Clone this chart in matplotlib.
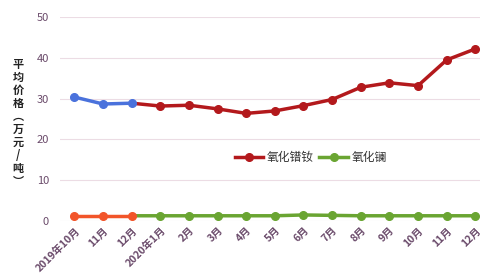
import numpy as np
import matplotlib
matplotlib.use("Agg")
import matplotlib.pyplot as plt
from matplotlib.lines import Line2D

plt.rcParams['font.family'] = ['Noto Sans CJK SC', 'DejaVu Sans']

months = ["2019年10月", "11月", "12月", "2020年1月", "2月", "3月", "4月", "5月",
          "6月", "7月", "8月", "9月", "10月", "11月", "12月"]
# 2019 part (three months) and 2020 part
prnd_2019 = [30.4, 28.7, 28.9]
prnd_2020 = [28.2, 28.4, 27.5, 26.4, 27.0, 28.3, 29.8, 32.8, 33.9, 33.2, 39.5, 42.2]
la_2019 = [1.3, 1.3, 1.3]
la_2020 = [1.3, 1.3, 1.3, 1.3, 1.3, 1.5, 1.4, 1.3, 1.3, 1.3, 1.3, 1.3]

x = np.arange(len(months))
x19 = x[:3]
x20 = x[2:]

fig = plt.figure(figsize=(4.81, 2.76), dpi=100)
ax = fig.add_axes([0.125, 0.199, 0.875, 0.739])

red = "#b3191c"
blue = "#4a72dc"
orange = "#f2552a"
green = "#6aa532"
lw = 2.5
ms = 5.5

# 2020 series start from Dec 2019 so lines join up
ax.plot(x20, [prnd_2019[-1]] + prnd_2020, color=red, lw=lw, zorder=3)
ax.plot(x[3:], prnd_2020, color=red, lw=0, marker="o", ms=ms, zorder=4)
ax.plot(x19, prnd_2019, color=blue, lw=lw, marker="o", ms=ms, zorder=5)

ax.plot(x20, [la_2019[-1]] + la_2020, color=green, lw=lw, zorder=3)
ax.plot(x[3:], la_2020, color=green, lw=0, marker="o", ms=ms, zorder=4)
ax.plot(x19, la_2019, color=orange, lw=lw, marker="o", ms=ms, zorder=5)

handles = [Line2D([], [], color=red, lw=lw, marker="o", ms=ms),
           Line2D([], [], color=green, lw=lw, marker="o", ms=ms)]
ax.legend(handles, ["氧化镨钕", "氧化镧"], loc="center", bbox_to_anchor=(0.595, 0.31),
          ncol=2, frameon=False, fontsize=8.5, handlelength=2.4,
          columnspacing=0.5, handletextpad=0.3, labelcolor="#333333")

ax.set_xlim(-0.5, 14.2)
ax.set_ylim(0, 50)
ax.set_yticks([0, 10, 20, 30, 40, 50])
ax.set_xticks(x)
ax.set_xticklabels(months, rotation=45, ha="right", rotation_mode="anchor",
                   fontsize=7.5, color="#6a4a6a", fontweight="bold")
ax.tick_params(axis="y", labelsize=8, colors="#6a4a6a", length=0, pad=8)
ax.tick_params(axis="x", length=0, pad=3)
ax.grid(axis="y", color="#ecdce4", lw=0.8)
ax.set_axisbelow(True)
for s in ax.spines.values():
    s.set_visible(False)

fig.text(0.038, 0.555, "\n".join("平均价格︵万元/吨︶"), ha="center", va="center",
         fontsize=8, fontweight="bold", color="#222222", linespacing=1.0)

fig.savefig("out.png", dpi=100)
